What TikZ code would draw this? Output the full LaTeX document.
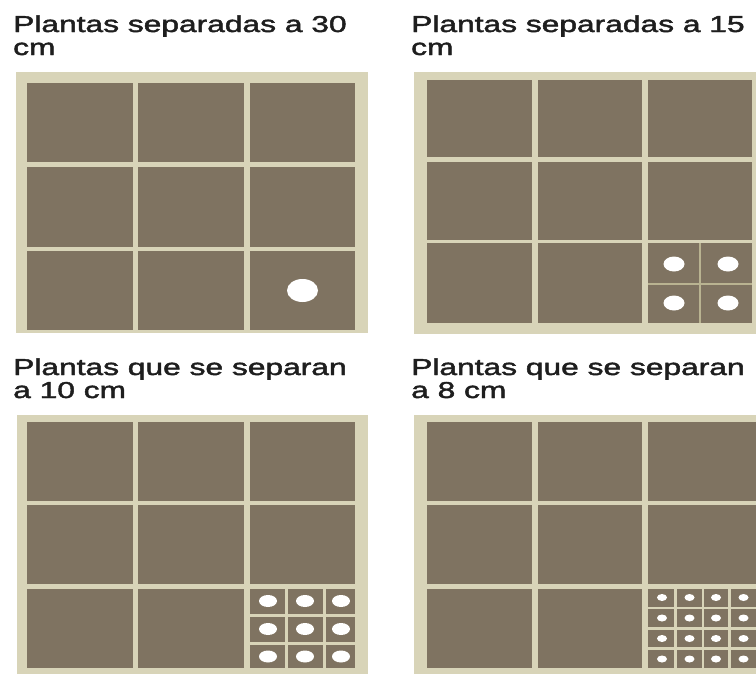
\documentclass[tikz,border=0pt]{standalone}
\usepackage{fontspec}
\setmainfont{Liberation Sans}
\newfontfamily\titlefont{Liberation Sans}[FakeBold=1.6]
\definecolor{framec}{HTML}{D8D4B8}
\definecolor{soil}{HTML}{7F7361}
\definecolor{subline}{HTML}{B9B391}
\definecolor{ink}{HTML}{1E1E1E}
\tikzset{
  ttl/.style={anchor=base west, inner sep=0pt, font=\titlefont\fontsize{23}{23}\selectfont, text=ink},
  framebox/.style={fill=framec},
  cell/.style={fill=soil},
  gapline/.style={draw=framec, line width=3pt},
  thinline/.style={draw=subline, line width=2pt},
  seed/.style={fill=white},
}
\newcommand{\wide}[1]{\scalebox{1.38}[1]{#1}}
\begin{document}
\begin{tikzpicture}[x=1pt,y=-1pt]
\clip (0,0) rectangle (756,673);
\fill[white] (0,0) rectangle (756,673);

% titles
\node[ttl] (t1a) at (13,32) {\wide{Plantas separadas a 30}};
\node[ttl] (t1b) at (13,55) {\wide{cm}};
\node[ttl] (t2a) at (411,32) {\wide{Plantas separadas a 15}};
\node[ttl] (t2b) at (411,55) {\wide{cm}};
\node[ttl] (t3a) at (13,375) {\wide{Plantas que se separan}};
\node[ttl] (t3b) at (13,398) {\wide{a 10 cm}};
\node[ttl] (t4a) at (411,375) {\wide{Plantas que se separan}};
\node[ttl] (t4b) at (411,398) {\wide{a 8 cm}};

% ---- top left: 30 cm
\fill[framebox] (16,72) rectangle (368,333);
\foreach \xa/\xb in {27/133,138/244,250/355}
  \foreach \ya/\yb in {83/162,167/247,251/330}
    \fill[cell] (\xa,\ya) rectangle (\xb,\yb);
\fill[seed] (302.5,290.5) ellipse [x radius=15.5, y radius=11.5];

% ---- top right: 15 cm
\fill[framebox] (414,72) rectangle (770,334);
\foreach \xa/\xb in {427/532,538/642,648/752}
  \foreach \ya/\yb in {80/157,162/240,243/323}
    \fill[cell] (\xa,\ya) rectangle (\xb,\yb);
\draw[thinline] (700,243) -- (700,323);
\draw[thinline] (648,284) -- (752,284);
\foreach \cx in {674,728}
  \foreach \cy in {264,303}
    \fill[seed] (\cx,\cy) ellipse [x radius=10.5, y radius=7.5];

% ---- bottom left: 10 cm
\fill[framebox] (17,415) rectangle (368,680);
\foreach \xa/\xb in {27/133,138/244,250/355}
  \foreach \ya/\yb in {422/501,505/584,589/668}
    \fill[cell] (\xa,\ya) rectangle (\xb,\yb);
\foreach \gx in {286.5,324.5}
  \draw[gapline] (\gx,589) -- (\gx,668);
\foreach \gy in {615,643.5}
  \draw[gapline] (250,\gy) -- (355,\gy);
\foreach \cx in {268,305,341}
  \foreach \cy in {601,629,656.5}
    \fill[seed] (\cx,\cy) ellipse [x radius=9, y radius=6];

% ---- bottom right: 8 cm
\fill[framebox] (414,415) rectangle (770,680);
\foreach \xa/\xb in {427/532,538/642,648/760}
  \foreach \ya/\yb in {422/501,505/584,589/668}
    \fill[cell] (\xa,\ya) rectangle (\xb,\yb);
\foreach \gx in {675.5,703,729.5}
  \draw[gapline, line width=2.5pt] (\gx,589) -- (\gx,668);
\foreach \gy in {608,628.5,648.5}
  \draw[gapline, line width=2.5pt] (648,\gy) -- (760,\gy);
\foreach \cx in {662,689.5,716,743.5}
  \foreach \cy in {597.5,618,638.5,659}
    \fill[seed] (\cx,\cy) ellipse [x radius=5, y radius=3.5];
\end{tikzpicture}
\end{document}
